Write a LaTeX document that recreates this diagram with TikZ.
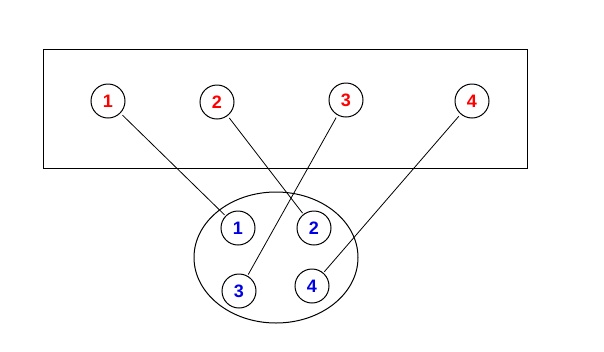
\documentclass[tikz,border=0pt]{standalone}
\usepackage{fontspec}
\setmainfont{Liberation Sans}
\usetikzlibrary{shapes.geometric}
\begin{document}
\begin{tikzpicture}[x=0.75pt,y=-0.75pt,line width=0.75pt,
  numc/.style={circle,draw=black,minimum size=25.5pt,inner sep=0pt,font=\fontsize{13.5}{15}\selectfont\bfseries},
  redn/.style={numc,text=red},
  bluen/.style={numc,text=blue!90!black},
  link/.style={draw=black,line width=0.6pt,shorten <=2pt,shorten >=1pt}]
\useasboundingbox (0,0) rectangle (604,351);
\node[draw=black,minimum width=363pt,minimum height=89.25pt,inner sep=0pt] (box) at (285,108.5) {};
\node[draw=black,ellipse,minimum width=123pt,minimum height=98.25pt,inner sep=0pt] (ell) at (276,257.5) {};
\node[redn] (r1) at (108,101) {1};
\node[redn] (r2) at (217,102) {2};
\node[redn] (r3) at (346,100) {3};
\node[redn] (r4) at (472,101) {4};
\node[bluen] (b1) at (238,228) {1};
\node[bluen] (b2) at (314,228) {2};
\node[bluen] (b3) at (239,291) {3};
\node[bluen] (b4) at (312,286) {4};
\draw[link] (r1) -- (b1);
\draw[link] (r2) -- (b2);
\draw[link] (r3) -- (b3);
\draw[link] (r4) -- (b4);
\end{tikzpicture}
\end{document}
